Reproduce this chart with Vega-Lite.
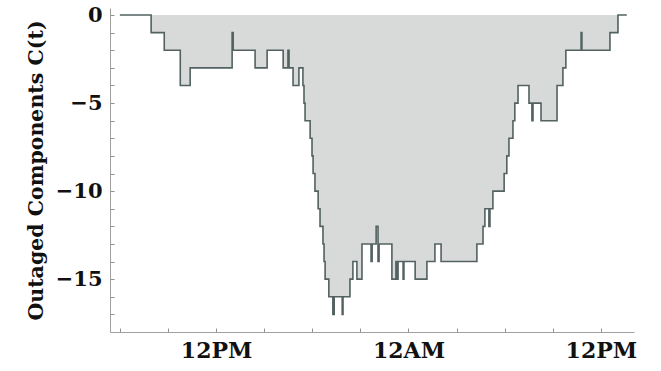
{
  "$schema": "https://vega.github.io/schema/vega-lite/v6.json",
  "width": 524,
  "height": 324,
  "autosize": "none",
  "padding": {"left": 110, "top": 8, "right": 27, "bottom": 39},
  "background": "white",
  "config": {"view": {"stroke": null}},
  "data": {"values": [
    {"t": "2012-10-29T06:00", "c": 0},
    {"t": "2012-10-29T07:57", "c": -1},
    {"t": "2012-10-29T08:46", "c": -2},
    {"t": "2012-10-29T09:46", "c": -4},
    {"t": "2012-10-29T10:23", "c": -3},
    {"t": "2012-10-29T13:00", "c": -1},
    {"t": "2012-10-29T13:04", "c": -2},
    {"t": "2012-10-29T14:26", "c": -3},
    {"t": "2012-10-29T15:11", "c": -2},
    {"t": "2012-10-29T16:11", "c": -3},
    {"t": "2012-10-29T16:29", "c": -2},
    {"t": "2012-10-29T16:33", "c": -3},
    {"t": "2012-10-29T16:48", "c": -4},
    {"t": "2012-10-29T17:10", "c": -3},
    {"t": "2012-10-29T17:25", "c": -4},
    {"t": "2012-10-29T17:29", "c": -5},
    {"t": "2012-10-29T17:33", "c": -6},
    {"t": "2012-10-29T17:52", "c": -7},
    {"t": "2012-10-29T17:59", "c": -8},
    {"t": "2012-10-29T18:03", "c": -9},
    {"t": "2012-10-29T18:10", "c": -10},
    {"t": "2012-10-29T18:22", "c": -11},
    {"t": "2012-10-29T18:29", "c": -12},
    {"t": "2012-10-29T18:40", "c": -13},
    {"t": "2012-10-29T18:44", "c": -14},
    {"t": "2012-10-29T18:48", "c": -15},
    {"t": "2012-10-29T19:02", "c": -16},
    {"t": "2012-10-29T19:17", "c": -17},
    {"t": "2012-10-29T19:22", "c": -16},
    {"t": "2012-10-29T19:52", "c": -17},
    {"t": "2012-10-29T19:55", "c": -16},
    {"t": "2012-10-29T20:21", "c": -15},
    {"t": "2012-10-29T20:32", "c": -14},
    {"t": "2012-10-29T20:47", "c": -15},
    {"t": "2012-10-29T21:06", "c": -13},
    {"t": "2012-10-29T21:40", "c": -14},
    {"t": "2012-10-29T21:44", "c": -13},
    {"t": "2012-10-29T21:59", "c": -12},
    {"t": "2012-10-29T22:06", "c": -14},
    {"t": "2012-10-29T22:10", "c": -13},
    {"t": "2012-10-29T22:58", "c": -15},
    {"t": "2012-10-29T23:13", "c": -14},
    {"t": "2012-10-29T23:17", "c": -15},
    {"t": "2012-10-29T23:21", "c": -14},
    {"t": "2012-10-29T23:40", "c": -15},
    {"t": "2012-10-29T23:43", "c": -14},
    {"t": "2012-10-30T00:25", "c": -15},
    {"t": "2012-10-30T01:09", "c": -14},
    {"t": "2012-10-30T01:39", "c": -13},
    {"t": "2012-10-30T02:02", "c": -14},
    {"t": "2012-10-30T04:16", "c": -13},
    {"t": "2012-10-30T04:39", "c": -12},
    {"t": "2012-10-30T04:46", "c": -11},
    {"t": "2012-10-30T05:01", "c": -12},
    {"t": "2012-10-30T05:05", "c": -11},
    {"t": "2012-10-30T05:16", "c": -10},
    {"t": "2012-10-30T05:58", "c": -9},
    {"t": "2012-10-30T06:08", "c": -8},
    {"t": "2012-10-30T06:16", "c": -7},
    {"t": "2012-10-30T06:31", "c": -6},
    {"t": "2012-10-30T06:38", "c": -5},
    {"t": "2012-10-30T06:50", "c": -4},
    {"t": "2012-10-30T07:31", "c": -5},
    {"t": "2012-10-30T07:42", "c": -6},
    {"t": "2012-10-30T07:46", "c": -5},
    {"t": "2012-10-30T08:16", "c": -6},
    {"t": "2012-10-30T09:16", "c": -4},
    {"t": "2012-10-30T09:38", "c": -3},
    {"t": "2012-10-30T09:49", "c": -2},
    {"t": "2012-10-30T10:46", "c": -1},
    {"t": "2012-10-30T10:49", "c": -2},
    {"t": "2012-10-30T12:34", "c": -1},
    {"t": "2012-10-30T13:04", "c": 0},
    {"t": "2012-10-30T13:37", "c": 0}
  ]},
  "mark": {
    "type": "area",
    "interpolate": "step-after",
    "color": "#d8dada",
    "opacity": 1,
    "line": {"color": "#536161", "strokeWidth": 1.6}
  },
  "encoding": {
    "x": {
      "field": "t",
      "type": "temporal",
      "scale": {"domain": [
        {"year": 2012, "month": 10, "date": 29, "hours": 5, "minutes": 23},
        {"year": 2012, "month": 10, "date": 30, "hours": 14, "minutes": 4}
      ]},
      "axis": {
        "title": null,
        "grid": false,
        "values": [
          {"year": 2012, "month": 10, "date": 29, "hours": 6},
          {"year": 2012, "month": 10, "date": 29, "hours": 9},
          {"year": 2012, "month": 10, "date": 29, "hours": 12},
          {"year": 2012, "month": 10, "date": 29, "hours": 15},
          {"year": 2012, "month": 10, "date": 29, "hours": 18},
          {"year": 2012, "month": 10, "date": 29, "hours": 21},
          {"year": 2012, "month": 10, "date": 30, "hours": 0},
          {"year": 2012, "month": 10, "date": 30, "hours": 3},
          {"year": 2012, "month": 10, "date": 30, "hours": 6},
          {"year": 2012, "month": 10, "date": 30, "hours": 9},
          {"year": 2012, "month": 10, "date": 30, "hours": 12}
        ],
        "labelExpr": "hours(datum.value) % 12 == 0 ? timeFormat(datum.value, '%-I%p') : ''",
        "labelFont": "DejaVu Serif",
        "labelFontWeight": "bold",
        "labelFontSize": 22,
        "labelColor": "#111111",
        "labelPadding": 12,
        "tickSize": -4,
        "tickColor": "#909090",
        "domainColor": "#a0a0a0",
        "labelFlush": false,
        "labelOverlap": false
      }
    },
    "y": {
      "field": "c",
      "type": "quantitative",
      "scale": {"domain": [-18, 0.4], "nice": false, "zero": true},
      "axis": {
        "title": "Outaged Components C(t)",
        "titleFont": "DejaVu Serif",
        "titleFontWeight": "bold",
        "titleFontSize": 20.5,
        "titleColor": "#111111",
        "titleX": -74,
        "titleBaseline": "middle",
        "grid": false,
        "values": [0, -1, -2, -3, -4, -5, -6, -7, -8, -9, -10, -11, -12, -13, -14, -15, -16, -17],
        "labelExpr": "datum.value % 5 == 0 ? format(datum.value, 'd') : ''",
        "labelFont": "DejaVu Serif",
        "labelFontWeight": "bold",
        "labelFontSize": 21,
        "labelColor": "#111111",
        "labelPadding": 12,
        "tickSize": -4,
        "tickColor": "#909090",
        "domainColor": "#a0a0a0",
        "labelOverlap": false
      }
    }
  }
}
